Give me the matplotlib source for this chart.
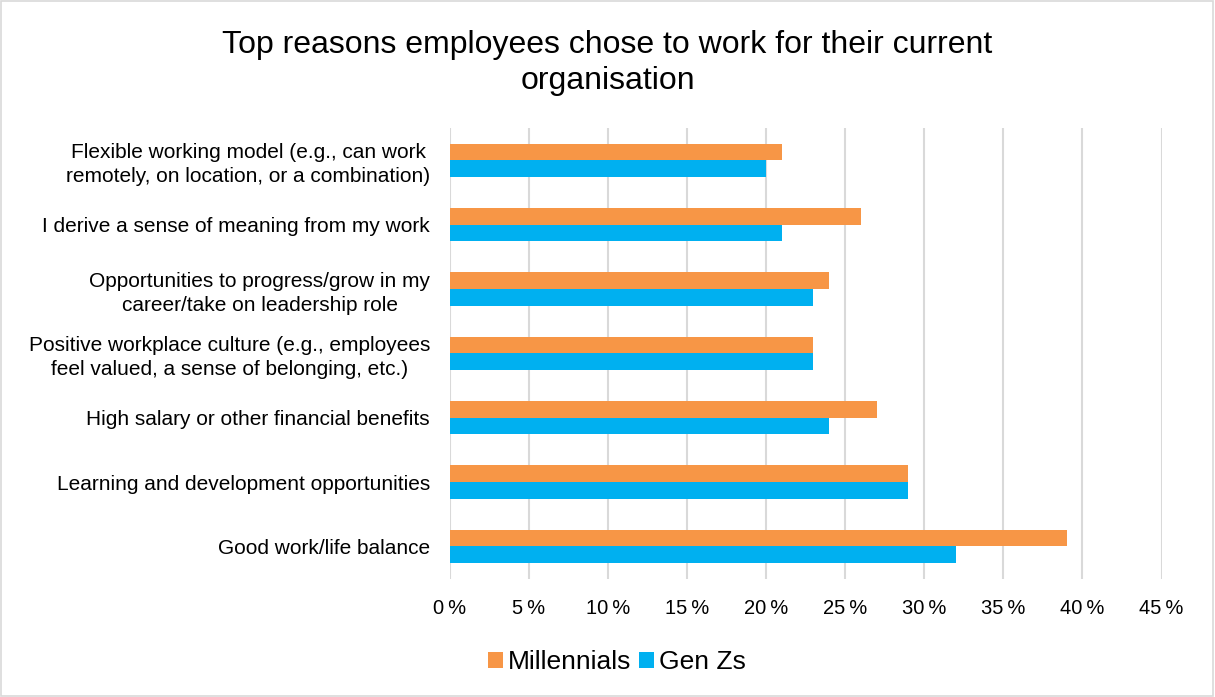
import numpy as np
import matplotlib.pyplot as plt
from matplotlib.patches import Rectangle

plt.rcParams['font.family'] = ['Liberation Sans', 'DejaVu Sans']

# DATOS
categorias = [
    "Flexible working model (e.g., can work\nremotely, on location, or a combination)",
    "I derive a sense of meaning from my work",
    "Opportunities to progress/grow in my\ncareer/take on leadership role",
    "Positive workplace culture (e.g., employees\nfeel valued, a sense of belonging, etc.)",
    "High salary or other financial benefits",
    "Learning and development opportunities",
    "Good work/life balance",
]
millennials = [21, 26, 24, 23, 27, 29, 39]
gen_zs = [20, 21, 23, 23, 24, 29, 32]
ticks_x = [0, 5, 10, 15, 20, 25, 30, 35, 40, 45]

color_mil = "#F79646"
color_gz = "#00B0F0"

fig = plt.figure(figsize=(12.15, 6.97), dpi=100)
ax = fig.add_axes([0.370, 0.170, 0.586, 0.646])

y = np.arange(len(categorias))
alto = 0.26

ax.barh(y - alto/2, millennials, height=alto, color=color_mil, label="Millennials", zorder=3)
ax.barh(y + alto/2, gen_zs, height=alto, color=color_gz, label="Gen Zs", zorder=3)

ax.set_ylim(len(categorias) - 0.5, -0.5)
ax.set_xlim(0, 45)
ax.set_yticks(y)
ax.set_yticklabels(categorias, fontsize=15, ha="right", multialignment="center",
                   linespacing=1.3)
ax.set_xticks(ticks_x)
ax.set_xticklabels([f"{v}\u2009%" for v in ticks_x], fontsize=14.5)

ax.tick_params(axis="both", length=0)
ax.tick_params(axis="y", pad=14)
ax.tick_params(axis="x", pad=15)

ax.grid(axis="x", color="#D9D9D9", linewidth=1.5, zorder=0)
for s in ax.spines.values():
    s.set_visible(False)

fig.suptitle("Top reasons employees chose to work for their current\norganisation",
             fontsize=23, y=0.957, x=0.5, linespacing=1.25)

ax.legend(loc="center", bbox_to_anchor=(0.508, 0.050), bbox_transform=fig.transFigure,
          ncol=2, frameon=False, fontsize=19, handlelength=0.55, handleheight=0.55,
          handletextpad=0.2, columnspacing=0.3)

fig.patches.append(Rectangle((0.001, 0.001), 0.997, 0.997, transform=fig.transFigure,
                             fill=False, edgecolor="#D9D9D9", linewidth=1.2))

fig.savefig("out.png", dpi=100)
